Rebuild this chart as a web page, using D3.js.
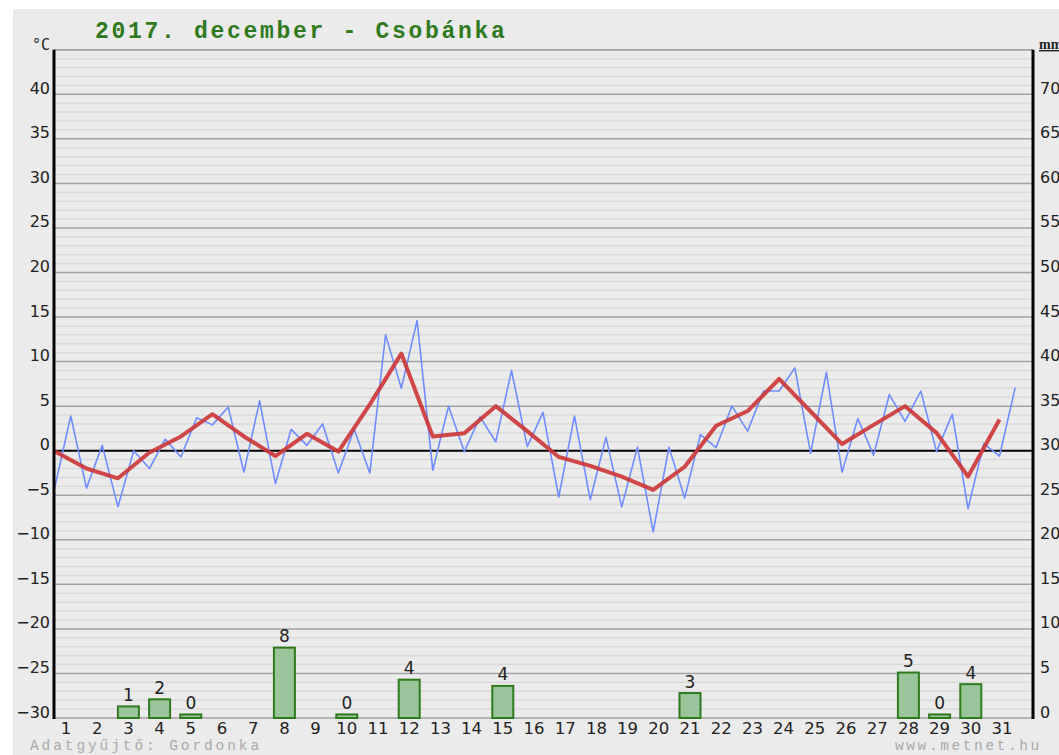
<!DOCTYPE html>
<html>
<head>
<meta charset="utf-8">
<script src="https://cdn.jsdelivr.net/npm/d3@7"></script>
<style>
  html, body { margin: 0; padding: 0; background: #ffffff; }
  svg { display: block; }
</style>
</head>
<body>
<svg id="chart" width="1059" height="755"></svg>
<script>
// ---------------- data ----------------
const titleText = "2017. december - Csobánka";
const days = d3.range(1, 32);
const dayLabels = days.map(String);
// first and second temperature reading of each day (°C), drawn alternately
const tempLow  = [-4.0,-4.2,-6.3,-2.0,-0.7, 2.9,-2.4,-3.7, 0.6,-2.5,-2.5, 7.0,-2.2,-0.1, 1.0, 0.45,-5.2,-5.5,-6.3,-9.1,-5.3, 0.35, 2.2, 6.7,-0.3,-2.4,-0.5, 3.3,-0.1,-6.5,-0.6];
const tempHigh = [ 3.9, 0.6, 0.0, 1.3, 3.7, 4.9, 5.6, 2.4, 3.0, 2.4,13.0,14.6, 5.0, 3.8, 9.0, 4.3, 3.9, 1.5, 0.4, 0.4, 1.8, 5.0, 6.7, 9.3, 8.8, 3.6, 6.3, 6.7, 4.1, 0.8, 7.1];
// daily mean temperature (°C)
const tempMean = [-0.1,-2.0,-3.1,-0.2, 1.6, 4.1, 1.6,-0.6, 1.9,-0.1, 5.2,10.9, 1.6, 1.95, 5.0, 2.2,-0.7,-1.7,-2.9,-4.4,-1.8, 2.8, 4.45, 8.05, 4.4, 0.75, 2.9, 5.0, 2.0,-2.9, 3.5];
// daily precipitation (mm)
const precip = [0,0,1.3,2.1,0.4,0,0,7.9,0,0.4,0,4.3,0,0,3.6,0,0,0,0,0,2.8,0,0,0,0,0,0,5.1,0.4,3.8,0];
const tempTicks = [-30,-25,-20,-15,-10,-5,0,5,10,15,20,25,30,35,40];
const mmTicks = [0,5,10,15,20,25,30,35,40,45,50,55,60,65,70];
const collector = "Adatgyűjtő: Gordonka";
const source = "www.metnet.hu";

// ---------------- layout ----------------
const svg = d3.select("#chart");
const L = 54, R = 1033;
const yT = d3.scaleLinear().domain([-30, 40]).range([718, 94.3]);
const yP = d3.scaleLinear().domain([0, 70]).range([718, 94.3]);
const xLine = d3.scaleLinear().domain([1, 32]).range([55, 1031]);
const xBar = d3.scaleLinear().domain([1, 31]).range([66, 1002]);
const plotTop = yT(45);

svg.append("rect").attr("x", 13).attr("y", 9).attr("width", 1059).attr("height", 760).attr("fill", "#ebebeb");

// grid
const minor = d3.range(-30, 46, 1).filter(v => v % 5 !== 0);
const major = d3.range(-30, 46, 5).filter(v => v !== 0);
svg.append("g").selectAll("line").data(minor).join("line")
  .attr("x1", L).attr("x2", R).attr("y1", d => yT(d)).attr("y2", d => yT(d))
  .attr("stroke", "#dadada").attr("stroke-width", 1.5);
svg.append("g").selectAll("line").data(major).join("line")
  .attr("x1", L).attr("x2", R).attr("y1", d => yT(d)).attr("y2", d => yT(d))
  .attr("stroke", "#a3a3a3").attr("stroke-width", 1.5);

// precipitation bars
const barW = 21;
const bars = days.map((d, i) => ({ d, v: precip[i] })).filter(o => o.v > 0);
svg.append("g").selectAll("rect").data(bars).join("rect")
  .attr("x", o => xBar(o.d) - barW / 2)
  .attr("y", o => yP(o.v))
  .attr("width", barW)
  .attr("height", o => yP(0) - yP(o.v))
  .attr("fill", "#9ac59b").attr("stroke", "#2f7a1e").attr("stroke-width", 2);
svg.append("g").selectAll("text").data(bars).join("text")
  .attr("x", o => xBar(o.d)).attr("y", o => yP(o.v) - 5.5)
  .attr("text-anchor", "middle")
  .attr("font-family", "DejaVu Sans").attr("font-size", 17).attr("fill", "#222")
  .text(o => Math.round(o.v));

// zero line
svg.append("line").attr("x1", L).attr("x2", R).attr("y1", yT(0)).attr("y2", yT(0))
  .attr("stroke", "#000").attr("stroke-width", 2);

// temperature lines
const bluePts = [];
days.forEach((d, i) => {
  bluePts.push([d, tempLow[i]]);
  bluePts.push([d + 0.5, tempHigh[i]]);
});
const line = d3.line().x(p => xLine(p[0])).y(p => yT(p[1]));
svg.append("path").datum(bluePts).attr("d", line)
  .attr("fill", "none").attr("stroke", "#6f8dff").attr("stroke-width", 1.6)
  .attr("stroke-linejoin", "round");
svg.append("path").datum(days.map((d, i) => [d, tempMean[i]])).attr("d", line)
  .attr("fill", "none").attr("stroke", "#cd3535").attr("stroke-opacity", 0.9)
  .attr("stroke-width", 4).attr("stroke-linejoin", "round");

// axes frame
svg.append("line").attr("x1", L).attr("x2", R).attr("y1", plotTop).attr("y2", plotTop)
  .attr("stroke", "#a3a3a3").attr("stroke-width", 1.5);
svg.append("line").attr("x1", L).attr("x2", L).attr("y1", plotTop).attr("y2", 719)
  .attr("stroke", "#000").attr("stroke-width", 3);
svg.append("line").attr("x1", R).attr("x2", R).attr("y1", plotTop).attr("y2", 719)
  .attr("stroke", "#000").attr("stroke-width", 3);

// y axes labels
const axL = svg.append("g").attr("transform", `translate(${L},0)`)
  .call(d3.axisLeft(yT).tickValues(tempTicks).tickSize(0).tickPadding(4));
axL.select(".domain").remove();
axL.selectAll("text").attr("dy", "-1").attr("font-family", "DejaVu Sans").attr("font-size", 16).attr("fill", "#222");

const axR = svg.append("g").attr("transform", `translate(${R},0)`)
  .call(d3.axisRight(yP).tickValues(mmTicks).tickSize(0).tickPadding(7));
axR.select(".domain").remove();
axR.selectAll("text").attr("dy", "-1").attr("font-family", "DejaVu Sans").attr("font-size", 16).attr("fill", "#222");

// x labels
svg.append("g").selectAll("text").data(days).join("text")
  .attr("x", d => xBar(d)).attr("y", 734)
  .attr("text-anchor", "middle")
  .attr("font-family", "DejaVu Sans").attr("font-size", 16.5).attr("fill", "#222")
  .text((d, i) => dayLabels[i]);

// unit labels
svg.append("text").attr("x", 50).attr("y", 50).attr("text-anchor", "end")
  .attr("font-family", "DejaVu Sans Mono").attr("font-size", 15).attr("fill", "#222").text("°C");
svg.append("text").attr("x", 1039).attr("y", 49)
  .attr("font-family", "Liberation Serif").attr("font-weight", "bold").attr("font-size", 14)
  .attr("fill", "#222").attr("text-decoration", "underline").text("mm");

// title
svg.append("text").attr("x", 95).attr("y", 38)
  .attr("font-family", "Liberation Mono").attr("font-weight", "bold").attr("font-size", 23)
  .attr("letter-spacing", 2.7).attr("fill", "#2e7a1c").text(titleText);

// footer
svg.append("text").attr("x", 30).attr("y", 750)
  .attr("font-family", "Liberation Mono").attr("font-size", 14.5).attr("letter-spacing", 2.9)
  .attr("fill", "#a9a9a9").text(collector);
svg.append("text").attr("x", 895).attr("y", 750)
  .attr("font-family", "Liberation Mono").attr("font-size", 14.5).attr("letter-spacing", 2.6)
  .attr("fill", "#a9a9a9").text(source);
</script>
</body>
</html>
